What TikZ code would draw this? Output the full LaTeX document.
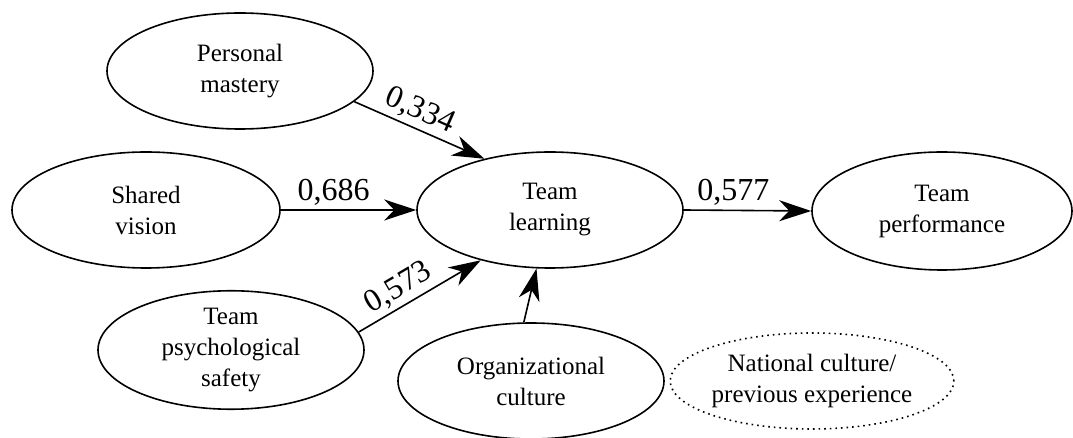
\documentclass[tikz,border=0pt]{standalone}
\usepackage{fontspec}
\setmainfont{LiberationSerif}[Extension=.ttf, UprightFont=*-Regular, BoldFont=*-Bold, ItalicFont=*-Italic, BoldItalicFont=*-BoldItalic]
\usetikzlibrary{arrows.meta,shapes.geometric}

\begin{document}
\begin{tikzpicture}[x=0.5pt, y=-0.5pt, >={Stealth[length=16pt,width=10.5pt,inset=5pt]}]
  \tikzstyle{factor} = [draw, line width=0.8pt, ellipse, inner sep=0pt, minimum width=133pt, minimum height=58pt, align=center, font={\fontsize{12.5}{15.5}\selectfont}]
  \tikzstyle{factorEdge} = [black, line width=0.8pt, ->];
  \tikzstyle{coefLabel} = [inner sep=2pt, font={\fontsize{16}{16}\selectfont}];

  \useasboundingbox (0,0) rectangle (1073,438);

	\node[factor](pm) at (240,71) {Personal\\mastery};
	\node[factor, minimum width=134pt](sv) at (146,210) {Shared\\vision};
	\node[factor](tps) at (231,350) {Team\\psychological\\safety};
	\node[factor](tl) at (550,210) {Team\\learning};
	\node[factor, minimum width=130pt, minimum height=59pt](tp) at (942,211) {Team\\performance};
	\node[factor](oc) at (531,381) {Organizational\\culture};
	\node[factor, dotted, minimum width=122pt, minimum height=48pt](nc) at (812,381) {National culture/\\previous experience};

	\path[factorEdge]
	(pm.-15.5) edge node[coefLabel, sloped, above, pos=0.45] {0,334} (tl.142.6)
	(sv.east) edge node[coefLabel, above, pos=0.39] {0,686} (tl.west)
	(tps.8.8) edge node[coefLabel, sloped, above, pos=0.4] {0,573} (tl.216.7)
	(oc.97.7) edge (tl.257.4)
	(tl.east) edge node[coefLabel, above, pos=0.39] {0,577} (tp.west);
\end{tikzpicture}
\end{document}
